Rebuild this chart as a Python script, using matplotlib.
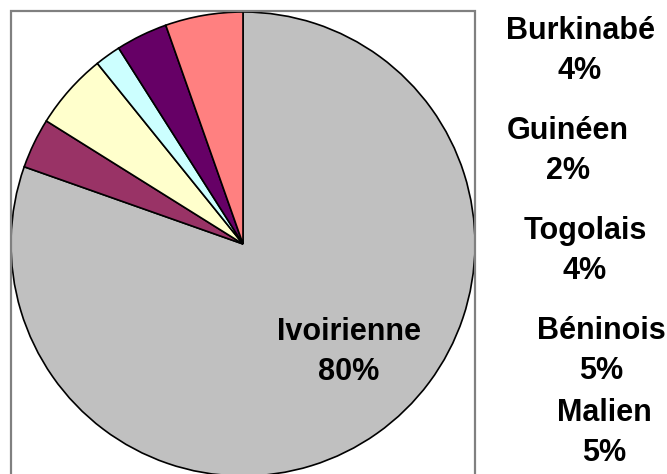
import matplotlib.pyplot as plt
from matplotlib.patches import Rectangle

# Données (ordre horaire depuis le haut)
nationalites = ["Ivoirienne", "Burkinabé", "Béninois", "Guinéen", "Togolais", "Malien"]
pourcentages = [80.4, 3.5, 5.3, 1.8, 3.6, 5.4]
couleurs = ["#C0C0C0", "#993366", "#FFFFCC", "#CCFFFF", "#660066", "#FF8080"]

# Position des étiquettes (pixels) : celles de droite ont été déplacées
pos_etiquettes = {
    "Ivoirienne": (349, 352),
    "Burkinabé": (580, 51),
    "Guinéen": (568, 151),
    "Togolais": (585, 251),
    "Béninois": (601, 351),
    "Malien": (604, 433),
}

W, H = 667, 474
fig = plt.figure(figsize=(W / 100, H / 100), dpi=100)
ax = fig.add_axes([0, 0, 1, 1])

ax.pie(pourcentages, colors=couleurs, startangle=90, counterclock=False,
       center=(243, H - 244), radius=232,
       wedgeprops=dict(edgecolor='black', linewidth=1.2))

ax.set_xlim(0, W)
ax.set_ylim(0, H)
ax.set_aspect('equal')
ax.axis('off')

# Cadre de la zone de tracé
ax.add_patch(Rectangle((11, -10), 464, H - 11 + 10, fill=False,
                       edgecolor='#808080', linewidth=1.6, clip_on=False))

for nom, valeur in zip(nationalites, pourcentages):
    x, y = pos_etiquettes[nom]
    ax.text(x, H - y, f"{nom}\n{int(valeur + 0.5)}%", ha='center', va='center',
            fontsize=22, fontweight='bold', family='Liberation Sans',
            linespacing=1.4)

plt.savefig('out.png', dpi=100)
plt.close()
